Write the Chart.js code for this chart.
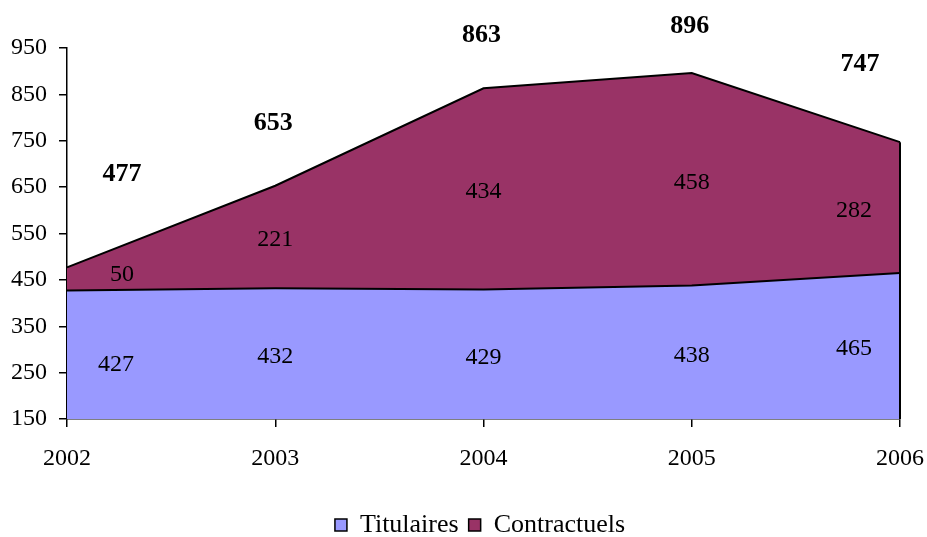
<!DOCTYPE html>
<html>
<head>
<meta charset="utf-8">
<script src="https://cdn.jsdelivr.net/npm/chart.js@4"></script>
<style>
  html, body { margin: 0; padding: 0; background: #fff; overflow: hidden; }
  #wrap { width: 927px; height: 537px; }
</style>
</head>
<body>
<div id="wrap"><canvas id="graph"></canvas></div>
<script>
// Données
const annees = ["2002", "2003", "2004", "2005", "2006"];
const titulaires = [427, 432, 429, 438, 465];
const contractuels = [50, 221, 434, 458, 282];
const totaux = [477, 653, 863, 896, 747];
const yTicks = [150, 250, 350, 450, 550, 650, 750, 850, 950];

// Décalages des étiquettes (pixels), comme dans l'original
const decalageX = [49, 0, 0, 0, -46];
const decalageTotal = [95, 64, 55, 49, 80];

const police = "'Liberation Serif', 'Times New Roman', serif";

// Plugin pour les étiquettes et le bord droit de la zone
const etiquettes = {
    id: "etiquettes",
    afterDatasetsDraw(chart) {
        const ctx = chart.ctx;
        const x = chart.scales.x;
        const y = chart.scales.y;
        const bas = y.min;

        // bord droit noir
        const last = annees.length - 1;
        const xr = x.getPixelForValue(last);
        ctx.save();
        ctx.strokeStyle = "#000";
        ctx.lineWidth = 2;
        ctx.beginPath();
        ctx.moveTo(xr, y.getPixelForValue(bas));
        ctx.lineTo(xr, y.getPixelForValue(totaux[last]));
        ctx.stroke();

        ctx.fillStyle = "#000";
        ctx.textAlign = "center";
        ctx.textBaseline = "middle";
        for (let i = 0; i < annees.length; i++) {
            const px = x.getPixelForValue(i) + decalageX[i];
            // titulaires : au milieu de la zone
            ctx.font = "24px " + police;
            ctx.fillText(titulaires[i], px,
                y.getPixelForValue((bas + titulaires[i]) / 2) + (i === 0 ? 10 : 3));
            // contractuels
            ctx.fillText(contractuels[i], px + (i === 0 ? 6 : 0),
                y.getPixelForValue(titulaires[i] + contractuels[i] / 2) + (i === 0 ? -4 : 3));
            // total en gras
            ctx.font = "bold 26px " + police;
            const pxT = x.getPixelForValue(i) + (i === 0 ? 55 : i === last ? -40 : -2);
            ctx.fillText(totaux[i], pxT, y.getPixelForValue(totaux[i]) - decalageTotal[i] + 2);
        }
        ctx.restore();
    }
};

const canvas = document.getElementById("graph").getContext("2d");
const chart = new Chart(canvas, {
    type: "line",
    data: {
        labels: annees,
        datasets: [
            {
                label: "Titulaires",
                data: titulaires,
                backgroundColor: "#9999FF",
                borderColor: "#000",
                borderWidth: 2,
                fill: "start",
                pointRadius: 0,
                tension: 0
            },
            {
                label: "Contractuels",
                data: contractuels,
                backgroundColor: "#993366",
                borderColor: "#000",
                borderWidth: 2,
                fill: "-1",
                pointRadius: 0,
                tension: 0
            }
        ]
    },
    options: {
        responsive: true,
        maintainAspectRatio: false,
        animation: false,
        // marge gauche pour recentrer la légende ; l'axe y est étroit, ses étiquettes (mirror) sortent à gauche
        layout: { padding: { top: 48, right: 27, left: 60, bottom: -11 } },
        plugins: {
            tooltip: { enabled: false },
            legend: {
                position: "bottom",
                labels: {
                    color: "#000",
                    font: { family: police, size: 26 },
                    boxWidth: 12,
                    boxHeight: 12,
                    padding: 10,
                    generateLabels(chart) {
                        return chart.data.datasets.map((ds, i) => ({
                            text: ds.label,
                            fillStyle: ds.backgroundColor,
                            strokeStyle: "#000",
                            lineWidth: 1.5,
                            datasetIndex: i
                        }));
                    }
                }
            }
        },
        scales: {
            x: {
                offset: false,
                grid: { display: true, drawOnChartArea: false, drawTicks: true, tickLength: 8, color: "#000", lineWidth: 1.5 },
                border: { color: "#000", width: 1.5 },
                ticks: { color: "#000", font: { family: police, size: 24 }, maxRotation: 0, padding: 17 },
                afterFit(scale) {
                    scale.height = 83;
                    scale.paddingLeft = 0;
                    scale.paddingRight = 0;
                }
            },
            y: {
                stacked: true,
                min: 150,
                max: 950,
                afterBuildTicks(scale) { scale.ticks = yTicks.map((v) => ({ value: v })); },
                grid: { drawOnChartArea: false, drawTicks: true, tickLength: 8, color: "#000", lineWidth: 1.5 },
                border: { color: "#000", width: 1.5 },
                ticks: { color: "#000", font: { family: police, size: 24 }, mirror: true, padding: -56 },
                afterFit(scale) { scale.width = 7; }
            }
        }
    },
    plugins: [etiquettes]
});
</script>
</body>
</html>
